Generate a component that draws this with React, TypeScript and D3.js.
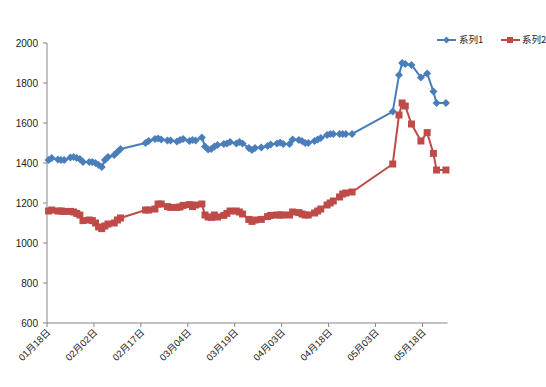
import React from "react";
import * as d3 from "d3";

const dates: string[] = [
  "2013-01-18","2013-01-19","2013-01-21","2013-01-22","2013-01-23","2013-01-25","2013-01-26","2013-01-27","2013-01-28","2013-01-29",
  "2013-01-31","2013-02-01","2013-02-02","2013-02-03","2013-02-04","2013-02-05","2013-02-06","2013-02-08","2013-02-09","2013-02-10",
  "2013-02-18","2013-02-19","2013-02-21","2013-02-22","2013-02-23","2013-02-25","2013-02-26","2013-02-28","2013-03-01","2013-03-02",
  "2013-03-04","2013-03-05","2013-03-06","2013-03-08","2013-03-09","2013-03-10","2013-03-11",
  "2013-03-12","2013-03-13","2013-03-15","2013-03-16","2013-03-17","2013-03-19","2013-03-20","2013-03-21","2013-03-23","2013-03-24",
  "2013-03-25","2013-03-27","2013-03-29","2013-03-30","2013-04-01","2013-04-02","2013-04-03","2013-04-05","2013-04-06","2013-04-08","2013-04-09",
  "2013-04-10","2013-04-11","2013-04-13","2013-04-14","2013-04-15","2013-04-17","2013-04-18","2013-04-19","2013-04-21","2013-04-22","2013-04-23","2013-04-25",
  "2013-05-08","2013-05-10","2013-05-11","2013-05-12","2013-05-14","2013-05-17","2013-05-19","2013-05-21","2013-05-22","2013-05-25",
];

const series1: number[] = [
  1415,1425,1418,1415,1415,1427,1430,1425,1420,1405,
  1405,1405,1400,1390,1380,1415,1430,1440,1455,1470,
  1500,1510,1520,1522,1518,1512,1512,1508,1515,1520,
  1510,1515,1512,1528,1482,1468,1470,
  1482,1490,1495,1498,1505,1498,1505,1498,1475,1465,
  1475,1478,1485,1492,1498,1502,1495,1495,1518,1515,1510,
  1500,1500,1510,1518,1525,1540,1545,1545,1545,1545,1545,1545,
  1657,1840,1900,1895,1890,1828,1848,1757,1700,1700,
];

const series2: number[] = [
  1160,1165,1160,1160,1158,1158,1155,1148,1140,1112,
  1115,1112,1100,1080,1072,1085,1095,1100,1115,1125,
  1165,1165,1170,1195,1195,1182,1178,1178,1180,1188,
  1192,1182,1190,1195,1140,1130,1128,
  1140,1130,1138,1148,1160,1160,1155,1145,1118,1108,
  1115,1118,1132,1138,1140,1140,1140,1140,1155,1152,1145,
  1140,1140,1150,1160,1170,1190,1200,1210,1230,1245,1250,1255,
  1395,1640,1700,1685,1595,1510,1552,1448,1365,1365,
];

const seriesNames: string[] = ["系列1", "系列2"];
const tickDates: string[] = ["2013-01-18","2013-02-02","2013-02-17","2013-03-04","2013-03-19","2013-04-03","2013-04-18","2013-05-03","2013-05-18"];
const yTicks: number[] = [600, 800, 1000, 1200, 1400, 1600, 1800, 2000];

const parse = d3.timeParse("%Y-%m-%d");
const fmt = d3.timeFormat("%m月%d日");

export default function App() {
  const W = 546, H = 387;
  const left = 47, right = 447.5, top = 43, bottom = 323;
  const x = d3.scaleTime()
    .domain([parse("2013-01-18")!, parse("2013-05-26")!])
    .range([left, right]);
  const y = d3.scaleLinear().domain([600, 2000]).range([bottom, top]);
  const px = (s: string) => x(d3.timeHour.offset(parse(s)!, 12));

  const colors = ["#4A7EBB", "#BE4B48"];
  const all = [series1, series2];
  const line = d3.line<[number, number]>().x(d => d[0]).y(d => d[1]);
  const font = "'Liberation Sans', Arial, 'Noto Sans CJK SC', sans-serif";
  const cjk = "'Noto Sans CJK SC', sans-serif";

  const diamond = (cx: number, cy: number, r: number) =>
    `M${cx},${cy - r}L${cx + r},${cy}L${cx},${cy + r}L${cx - r},${cy}Z`;

  return (
    <svg width={W} height={H} style={{ position: "absolute", left: 0, top: 0, background: "#fff" }} fontFamily={font}>
      <line x1={left} y1={top} x2={left} y2={bottom} stroke="#868686" strokeWidth={1} />
      <line x1={left} y1={bottom} x2={right} y2={bottom} stroke="#868686" strokeWidth={1} />
      {yTicks.map(t => (
        <g key={t}>
          <line x1={left - 4} x2={left} y1={y(t)} y2={y(t)} stroke="#868686" />
          <text x={38} y={y(t)} dy="0.35em" textAnchor="end" fontSize={10} fill="#222">{t}</text>
        </g>
      ))}
      {tickDates.map(s => {
        const tx = x(parse(s)!);
        return (
          <g key={s}>
            <line x1={tx} x2={tx} y1={bottom} y2={bottom + 4} stroke="#868686" />
            <text transform={`translate(${tx + 4},${bottom + 10}) rotate(-45)`} textAnchor="end" fontSize={9.5} fill="#222">{fmt(parse(s)!)}</text>
          </g>
        );
      })}
      {all.map((vals, si) => {
        const pts: [number, number][] = vals.map((v, i) => [px(dates[i]), y(v)]);
        return (
          <g key={si}>
            <path d={line(pts)!} fill="none" stroke={colors[si]} strokeWidth={2} />
            {pts.map((p, i) => si === 0
              ? <path key={i} d={diamond(p[0], p[1], 4)} fill={colors[si]} />
              : <rect key={i} x={p[0] - 3.5} y={p[1] - 3.5} width={7} height={7} fill={colors[si]} />)}
          </g>
        );
      })}
      <g>
        <line x1={437} x2={456} y1={40} y2={40} stroke={colors[0]} strokeWidth={2} />
        <path d={diamond(446.5, 40, 3.5)} fill={colors[0]} />
        <text x={459} y={40} dy="0.35em" fontSize={9.5} fontFamily={cjk} fill="#222">{seriesNames[0]}</text>
        <line x1={501} x2={520} y1={40} y2={40} stroke={colors[1]} strokeWidth={2} />
        <rect x={507} y={37} width={6} height={6} fill={colors[1]} />
        <text x={522} y={40} dy="0.35em" fontSize={9.5} fontFamily={cjk} fill="#222">{seriesNames[1]}</text>
      </g>
    </svg>
  );
}
